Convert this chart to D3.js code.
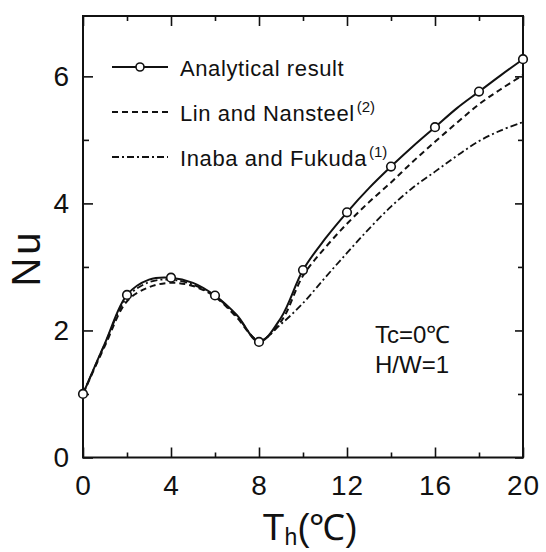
<!DOCTYPE html>
<html>
<head>
<meta charset="utf-8">
<script src="https://cdn.jsdelivr.net/npm/d3@7"></script>
<style>
  body { margin: 0; background: #fff; }
  text { font-family: "Liberation Sans", Arial, sans-serif; fill: #111; }
</style>
</head>
<body>
<div id="chart"></div>
<script>
// temperature of hot wall, integer steps
const th = [0, 1, 2, 3, 4, 5, 6, 7, 8, 9, 10, 11, 12, 13, 14, 15, 16, 17, 18, 19, 20];
// Analytical result (markers on even Th)
const analytical = [1.0, 1.8, 2.56, 2.8, 2.83, 2.75, 2.55, 2.24, 1.82, 2.2, 2.95, 3.44, 3.86, 4.24, 4.58, 4.9, 5.2, 5.5, 5.76, 6.02, 6.27];
// Lin and Nansteel (2)
const linNansteel = [1.0, 1.76, 2.46, 2.68, 2.75, 2.7, 2.53, 2.2, 1.84, 2.14, 2.86, 3.3, 3.68, 4.02, 4.33, 4.66, 4.97, 5.27, 5.56, 5.8, 6.02];
// Inaba and Fukuda (1)
const inabaFukuda = [1.0, 1.79, 2.52, 2.76, 2.8, 2.72, 2.54, 2.22, 1.84, 2.1, 2.43, 2.83, 3.22, 3.6, 3.95, 4.25, 4.5, 4.75, 4.98, 5.15, 5.28];

const xTicks = [0, 4, 8, 12, 16, 20];
const xMinor = [2, 6, 10, 14, 18];
const yTicks = [0, 2, 4, 6];
const yMinor = [1, 3, 5];

const margin = {top: 16, right: 23, bottom: 94.5, left: 83},
    width = 546 - margin.left - margin.right,
    height = 552 - margin.top - margin.bottom;

const svg = d3.select("#chart")
  .append("svg")
    .attr("width", 546)
    .attr("height", 552)
  .append("g")
    .attr("transform", "translate(" + margin.left + "," + margin.top + ")");

const x = d3.scaleLinear().domain([0, 20]).range([0, width]);
const y = d3.scaleLinear().domain([0, 6.95]).range([height, 0]);

// ticks, all pointing inward
function tickAxis(axis, vals, len, pad) {
  return axis.tickValues(vals).tickSizeInner(-len).tickSizeOuter(0)
    .tickPadding(pad || 0).tickFormat(pad ? d3.format("d") : "");
}

function styleAxis(g) {
  g.select(".domain").remove();
  g.selectAll("line").attr("stroke", "#111").attr("stroke-width", 1.6);
  g.selectAll("text").attr("font-size", 28).attr("fill", "#111")
    .style("font-family", "'Liberation Sans', Arial, sans-serif")
    .style("letter-spacing", "1px");
}

svg.append("g").attr("transform", `translate(0,${height})`)
  .call(tickAxis(d3.axisBottom(x), xTicks, 10, 18)).call(styleAxis);
svg.append("g").attr("transform", `translate(0,${height})`)
  .call(tickAxis(d3.axisBottom(x), xMinor, 5)).call(styleAxis);
svg.append("g")
  .call(tickAxis(d3.axisTop(x), xTicks, 10)).call(styleAxis);
svg.append("g")
  .call(tickAxis(d3.axisTop(x), xMinor, 5)).call(styleAxis);

svg.append("g")
  .call(tickAxis(d3.axisLeft(y), yTicks, 10, 13)).call(styleAxis);
svg.append("g")
  .call(tickAxis(d3.axisLeft(y), yMinor, 6)).call(styleAxis);
svg.append("g").attr("transform", `translate(${width},0)`)
  .call(tickAxis(d3.axisRight(y), yTicks, 8)).call(styleAxis);
svg.append("g").attr("transform", `translate(${width},0)`)
  .call(tickAxis(d3.axisRight(y), yMinor, 5)).call(styleAxis);

// frame
svg.append("rect")
  .attr("width", width).attr("height", height)
  .attr("fill", "none").attr("stroke", "#111").attr("stroke-width", 2);

const line = d3.line()
  .x(d => x(d[0]))
  .y(d => y(d[1]))
  .curve(d3.curveCatmullRom);

const series = [
  {vals: inabaFukuda, dash: "7,3,2,3", w: 1.8},
  {vals: linNansteel, dash: "6,4", w: 2},
  {vals: analytical, dash: null, w: 2}
];

series.forEach(s => {
  svg.append("path")
    .datum(th.map((t, i) => [t, s.vals[i]]))
    .attr("fill", "none")
    .attr("stroke", "#111")
    .attr("stroke-width", s.w)
    .attr("stroke-dasharray", s.dash)
    .attr("d", line);
});

svg.selectAll(".marker")
  .data(th.map((t, i) => [t, analytical[i]]).filter(d => d[0] % 2 === 0))
  .enter().append("circle")
    .attr("class", "marker")
    .attr("cx", d => x(d[0]))
    .attr("cy", d => y(d[1]))
    .attr("r", 4.3)
    .attr("fill", "#fff")
    .attr("stroke", "#111")
    .attr("stroke-width", 1.6);

// legend
const legend = [
  {label: "Analytical result", sup: "", dash: null, marker: true},
  {label: "Lin and Nansteel", sup: "(2)", dash: "6,4", marker: false},
  {label: "Inaba and Fukuda", sup: "(1)", dash: "7,3,2,3", marker: false}
];
const lg = svg.append("g").attr("transform", "translate(29,51)");
legend.forEach((d, i) => {
  const row = lg.append("g").attr("transform", `translate(0,${i * 45})`);
  row.append("line")
    .attr("x1", 0).attr("x2", 56).attr("y1", 0).attr("y2", 0)
    .attr("stroke", "#111").attr("stroke-width", 1.8)
    .attr("stroke-dasharray", d.dash);
  if (d.marker) {
    row.append("circle").attr("cx", 28).attr("r", 4).attr("fill", "#fff")
      .attr("stroke", "#111").attr("stroke-width", 1.6);
  }
  const t = row.append("text").attr("x", 68).attr("y", 9).attr("font-size", 22)
    .style("letter-spacing", "0.6px");
  t.append("tspan").text(d.label);
  if (d.sup) {
    t.append("tspan").attr("dx", 2).attr("dy", -9).attr("font-size", 15)
      .style("letter-spacing", "0px").text(d.sup);
  }
});

// conditions
svg.append("text").attr("x", 292).attr("y", 327).attr("font-size", 24).text("Tc=0℃");
svg.append("text").attr("x", 292).attr("y", 357).attr("font-size", 24).text("H/W=1");

// axis titles
const xt = svg.append("text")
  .attr("x", 227)
  .attr("y", height + 82)
  .attr("text-anchor", "middle")
  .attr("font-size", 36);
xt.append("tspan").text("T");
xt.append("tspan").attr("font-size", 23).attr("dy", 5).text("h");
xt.append("tspan").attr("dy", -5).text("(℃)");

svg.append("text")
  .attr("transform", `translate(-43,242) rotate(-90)`)
  .attr("text-anchor", "middle")
  .attr("font-size", 40)
  .style("letter-spacing", "3px")
  .text("Nu");
</script>
</body>
</html>
